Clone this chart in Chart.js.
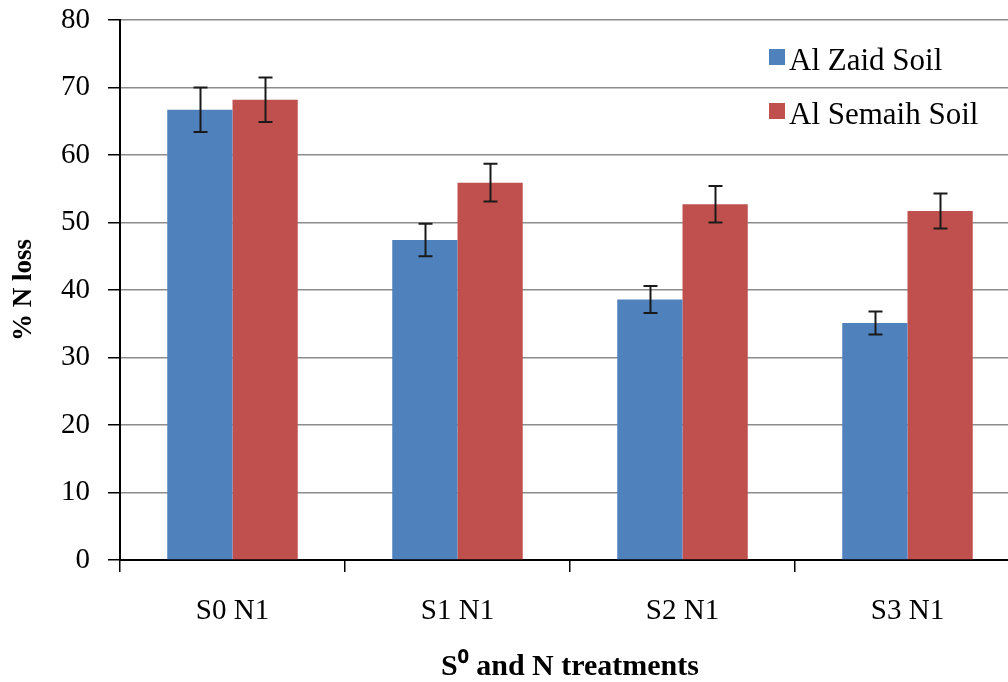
<!DOCTYPE html>
<html>
<head>
<meta charset="utf-8">
<script src="https://cdn.jsdelivr.net/npm/chart.js@4"></script>
<style>
  html, body { margin: 0; padding: 0; background: #fff; overflow: hidden; width: 1008px; height: 682px; }
  canvas { display: block; }
</style>
</head>
<body>
<canvas id="c" width="1030" height="682"></canvas>
<script>
const categories = ['S0 N1', 'S1 N1', 'S2 N1', 'S3 N1'];
const seriesNames = ['Al Zaid Soil', 'Al Semaih Soil'];
const zaidValues = [66.7, 47.4, 38.6, 35.1];
const semaihValues = [68.2, 55.9, 52.7, 51.7];
const zaidErrors = [3.3, 2.4, 2.0, 1.7];
const semaihErrors = [3.3, 2.8, 2.7, 2.6];
const yMin = 0, yMax = 80, yStep = 10;
const xTitle = 'S\u2070 and N treatments';
const yTitle = '% N loss';
const serif = '"Liberation Serif", "Times New Roman", serif';

const errorBars = {
  id: 'errorBars',
  afterDatasetsDraw(chart) {
    const ctx = chart.ctx;
    const ys = chart.scales.y;
    ctx.save();
    ctx.strokeStyle = '#1a1a1a';
    ctx.lineWidth = 2;
    chart.data.datasets.forEach((ds, i) => {
      const meta = chart.getDatasetMeta(i);
      meta.data.forEach((el, j) => {
        const v = ds.data[j], e = ds.errors[j];
        const x = Math.round(el.x) + 0.5;
        const yh = ys.getPixelForValue(v + e);
        const yl = ys.getPixelForValue(v - e);
        ctx.beginPath();
        ctx.moveTo(x, yh); ctx.lineTo(x, yl);
        ctx.moveTo(x - 7, yh); ctx.lineTo(x + 7, yh);
        ctx.moveTo(x - 7, yl); ctx.lineTo(x + 7, yl);
        ctx.stroke();
      });
    });
    ctx.restore();
  }
};

const insideLegend = {
  id: 'insideLegend',
  afterDraw(chart) {
    const ctx = chart.ctx;
    ctx.save();
    ctx.font = '31px ' + serif;
    ctx.textBaseline = 'alphabetic';
    const rows = [70, 124];
    chart.data.datasets.forEach((ds, i) => {
      const by = rows[i];
      ctx.fillStyle = ds.backgroundColor;
      ctx.fillRect(769, by - 21, 16, 16);
      ctx.fillStyle = '#000';
      ctx.fillText(ds.label, 789, by);
    });
    ctx.restore();
  }
};

new Chart(document.getElementById('c'), {
  type: 'bar',
  data: {
    labels: categories,
    datasets: [
      { label: seriesNames[0], data: zaidValues, errors: zaidErrors, backgroundColor: '#4F81BD', borderWidth: 0 },
      { label: seriesNames[1], data: semaihValues, errors: semaihErrors, backgroundColor: '#C0504D', borderWidth: 0 }
    ]
  },
  plugins: [errorBars, insideLegend],
  options: {
    responsive: false,
    animation: false,
    devicePixelRatio: 1,
    layout: { padding: { top: 20, right: 10, bottom: 0, left: 8 } },
    datasets: { bar: { categoryPercentage: 0.58, barPercentage: 1.0 } },
    plugins: { legend: { display: false }, tooltip: { enabled: false } },
    scales: {
      x: {
        offset: true,
        grid: { display: true, drawOnChartArea: false, drawTicks: true, tickLength: 12, offset: true, color: '#000', lineWidth: 1.5 },
        border: { display: true, color: '#000', width: 2 },
        ticks: { color: '#000', padding: 22, font: { family: serif, size: 29 } },
        title: { display: true, text: xTitle, color: '#000', padding: { top: 10, bottom: 0 }, font: { family: serif, size: 30, weight: 'bold', lineHeight: 1 } },
        afterFit(s) { s.height = 122; s.paddingLeft = 0; s.paddingRight = 0; }
      },
      y: {
        min: yMin, max: yMax,
        ticks: { stepSize: yStep, color: '#000', padding: 18, font: { family: serif, size: 29 } },
        grid: { color: '#8c8c8c', lineWidth: 1.5, tickLength: 12, tickColor: '#000', tickWidth: 1.5 },
        border: { display: true, color: '#000', width: 2 },
        title: { display: true, text: yTitle, color: '#000', padding: { top: 0, bottom: 0 }, font: { family: serif, size: 27, weight: 'bold' } },
        afterFit(s) { s.width = 112; s.paddingTop = 0; s.paddingBottom = 0; }
      }
    }
  }
});
</script>
</body>
</html>
